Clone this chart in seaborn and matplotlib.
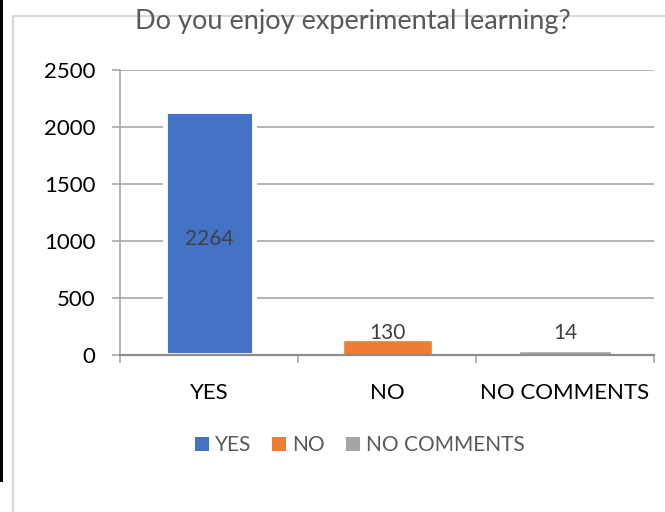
import matplotlib
matplotlib.use("Agg")
import matplotlib.pyplot as plt
import seaborn as sns
import pandas as pd
from matplotlib.patches import Patch, Rectangle
from matplotlib.lines import Line2D

# ---- data ----
categories = ["YES", "NO", "NO COMMENTS"]
bar_values = [2140, 131, 14]          # bar heights as drawn
value_labels = ["2264", "130", "14"]  # printed data labels
colors = ["#4472C4", "#ED7D31", "#A5A5A5"]
y_ticks = [0, 500, 1000, 1500, 2000, 2500]
title = "Do you enjoy experimental learning?"

sns.set_theme(style="white")
plt.rcParams["font.family"] = ["Lato", "DejaVu Sans"]

W, H = 665, 512
fig = plt.figure(figsize=(W / 100, H / 100), dpi=100)
fig.patch.set_facecolor("white")

# screenshot framing: black strip and light chart border
fig.patches.append(Rectangle((0, 1 - 482 / H), 3 / W, 482 / H, transform=fig.transFigure,
                             facecolor="black", edgecolor="none", zorder=0))
fig.lines.append(Line2D([12.5 / W, 12.5 / W], [0, 1 - 16 / H], transform=fig.transFigure,
                        color="#D9D9D9", lw=1.5, zorder=1))
fig.lines.append(Line2D([12.5 / W, 1], [1 - 16 / H, 1 - 16 / H], transform=fig.transFigure,
                        color="#D9D9D9", lw=1.5, zorder=1))

ax = fig.add_axes([120 / W, 1 - 355 / H, (654 - 120) / W, (355 - 70) / H])

df = pd.DataFrame({"category": categories, "value": bar_values})
sns.barplot(data=df, x="category", y="value", hue="category", palette=colors,
            order=categories, hue_order=categories, width=0.5, saturation=1,
            legend=False, ax=ax, zorder=2)

# YES bar has a white outline in the source
ax.patches[0].set_edgecolor("white")
ax.patches[0].set_linewidth(3.5)
ax.patches[2].set_edgecolor(colors[2])
ax.patches[2].set_linewidth(1.2)

ax.set_ylim(0, 2500)
ax.set_xlim(-0.5, len(categories) - 0.5)
ax.set_yticks(y_ticks)
ax.set_yticklabels([str(t) for t in y_ticks])
ax.set_xlabel("")
ax.set_ylabel("")

grid_c = "#A0A0A0"
for t in y_ticks[1:]:
    ax.axhline(t, color=grid_c, lw=1.1, zorder=1)

for s in ["top", "right"]:
    ax.spines[s].set_visible(False)
ax.spines["left"].set_color(grid_c)
ax.spines["left"].set_linewidth(1.1)
ax.spines["bottom"].set_color("#8C8C8C")
ax.spines["bottom"].set_linewidth(1.6)
ax.spines["bottom"].set_zorder(5)

ax.tick_params(axis="y", length=5.8, width=1.1, color=grid_c, pad=12,
               labelsize=16, labelcolor="black", left=True)
ax.tick_params(axis="x", which="major", length=0, pad=20, labelsize=16, labelcolor="black")
ax.set_xticks([i + 0.5 for i in range(-1, len(categories))], minor=True)
ax.tick_params(axis="x", which="minor", length=5.8, width=1.1, color=grid_c, bottom=True)

# data labels
ax.annotate(value_labels[0], (0, bar_values[0] / 2), xytext=(0, -4), textcoords="offset points",
            ha="center", va="center", fontsize=15, color="#404040", zorder=7)
outside_y = max(bar_values[1:])
for i in range(1, len(categories)):
    ax.annotate(value_labels[i], (i, outside_y), xytext=(0, -2), textcoords="offset points",
                ha="center", va="bottom", fontsize=15, color="#404040")

fig.text(353 / W, 1 - 21 / H, title, ha="center", va="center", fontsize=19.5, color="#595959")

handles = [Patch(facecolor=c, edgecolor="none", label=l) for c, l in zip(colors, categories)]
fig.legend(handles=handles, loc="center", bbox_to_anchor=(360 / W, 1 - 445 / H), ncol=3,
           frameon=False, fontsize=15, handlelength=0.67, handleheight=0.67,
           handletextpad=0.3, columnspacing=1.0, labelcolor="#595959")

fig.savefig("out.png", dpi=100)
